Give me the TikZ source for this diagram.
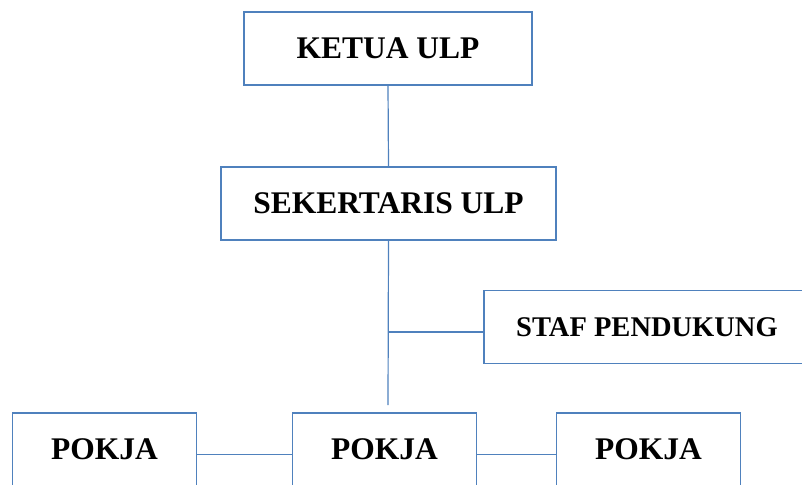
\documentclass[tikz,border=0pt]{standalone}
\usepackage{fontspec}
\setmainfont{Liberation Serif}
\definecolor{ulpBlue}{RGB}{79,129,189}
\begin{document}
\begin{tikzpicture}[x=1pt,y=-1pt]
\tikzset{
    ulpBox/.style={draw=ulpBlue,line width=1.2pt,inner sep=0pt,minimum height=73pt,
        font=\bfseries\fontsize{31.5}{36}\selectfont},
    ulpLine/.style={draw=ulpBlue,line width=1.2pt}
}
\useasboundingbox (0,0) rectangle (802,484);
\clip (0,0) rectangle (802,484);
% top of the chart
\node[ulpBox,minimum width=288pt] (ketua) at (388,48.5) {KETUA ULP};
\node[ulpBox,minimum width=335pt] (sekretaris) at (388.5,203.5) {SEKERTARIS ULP};
\node[ulpBox,minimum width=326pt,font=\bfseries\fontsize{28.5}{33}\selectfont] (staf) at (647,327) {STAF PENDUKUNG};
% pokja row
\node[ulpBox,minimum width=184pt] (pokjaA) at (104.5,449.5) {POKJA};
\node[ulpBox,minimum width=184pt] (pokjaB) at (384.5,449.5) {POKJA};
\node[ulpBox,minimum width=184pt] (pokjaC) at (648.5,449.5) {POKJA};

\coordinate (branch) at (388,332);
\coordinate (stem) at (388,405);

\draw[ulpLine] (ketua.south) -- (sekretaris.north);
\draw[ulpLine] (sekretaris.south) -- (stem);
\draw[ulpLine] (branch) -- (branch -| staf.west);
\draw[ulpLine] ([yshift=-5pt]pokjaA.east) -- ([yshift=-5pt]pokjaB.west);
\draw[ulpLine] ([yshift=-5pt]pokjaB.east) -- ([yshift=-5pt]pokjaC.west);
\end{tikzpicture}
\end{document}
